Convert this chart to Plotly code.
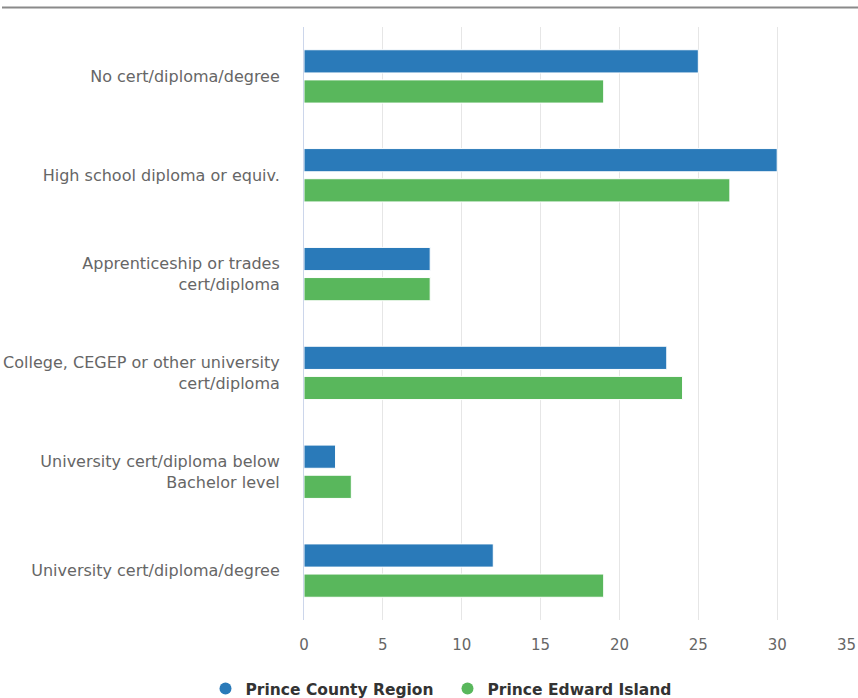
import plotly.graph_objects as go

categories = [
    "No cert/diploma/degree",
    "High school diploma or equiv.",
    "Apprenticeship or trades<br>cert/diploma",
    "College, CEGEP or other university<br>cert/diploma",
    "University cert/diploma below<br>Bachelor level",
    "University cert/diploma/degree",
]
prince_county = [25, 30, 8, 23, 2, 12]
pei = [19, 27, 8, 24, 3, 19]
series_names = ["Prince County Region", "Prince Edward Island"]
colors = ["#2a7ab9", "#59b75c"]
tick_values = [0, 5, 10, 15, 20, 25, 30, 35]
x_max = 35

W, H = 858, 698
ML, MR, MT, MB = 304, 1, 27, 78
pw, ph = W - ML - MR, H - MT - MB
x_range = [0, x_max + 0.06]

fig = go.Figure()
for name, vals, col in zip(series_names, [prince_county, pei], colors):
    fig.add_trace(go.Bar(
        y=categories, x=vals, orientation="h", name=name,
        marker=dict(color=col, line=dict(color="#ffffff", width=1)),
        showlegend=False,
    ))
# Legend entries drawn as round markers
for name, col in zip(series_names, colors):
    fig.add_trace(go.Scatter(
        x=[None], y=[None], mode="markers", name=f"<b>{name}</b>",
        marker=dict(color=col, size=16, symbol="circle"),
    ))
# Invisible trace to activate the overlay axis carrying the last tick label
fig.add_trace(go.Scatter(x=[None], y=[None], xaxis="x2", showlegend=False,
                         hoverinfo="skip"))

tick_font = dict(size=15, color="#666666")
fig.update_layout(
    width=W, height=H,
    margin=dict(l=ML, r=MR, t=MT, b=MB, pad=0, autoexpand=False),
    paper_bgcolor="white", plot_bgcolor="white",
    barmode="group", bargap=0.39, bargroupgap=0.23,
    font=dict(family="DejaVu Sans", size=15, color="#666666"),
    xaxis=dict(
        range=x_range, tickvals=tick_values,
        ticktext=[str(v) if v != x_max else "" for v in tick_values],
        showgrid=True, gridcolor="#e6e6e6", gridwidth=1,
        zeroline=False, showline=False, ticks="",
        ticklabelstandoff=14, tickfont=tick_font, automargin=False,
    ),
    xaxis2=dict(
        overlaying="x", side="bottom", range=x_range,
        tickvals=[x_max], ticktext=[str(x_max)],
        ticklabelposition="outside left",
        showgrid=False, zeroline=False, showline=False, ticks="",
        ticklabelstandoff=14, tickfont=tick_font, automargin=False,
    ),
    yaxis=dict(
        autorange="reversed", showgrid=False, zeroline=False,
        showline=True, linecolor="#ccd6eb", linewidth=1,
        ticks="", ticklabelstandoff=20, automargin=False,
        tickfont=dict(size=16, color="#666666"),
    ),
    legend=dict(
        orientation="h", x=(447.5 - ML) / pw, xanchor="center",
        y=-(689 - (MT + ph)) / ph, yanchor="middle",
        font=dict(size=15.5, color="#333333"),
        itemsizing="constant", traceorder="normal",
        entrywidth=197, entrywidthmode="pixels",
    ),
    shapes=[dict(
        type="line", xref="paper", yref="paper",
        x0=-(ML - 2) / pw, x1=1 + MR / pw,
        y0=1 + (MT - 7.5) / ph, y1=1 + (MT - 7.5) / ph,
        line=dict(color="#8a8a8a", width=2),
    )],
)

fig.write_html("out.html")
